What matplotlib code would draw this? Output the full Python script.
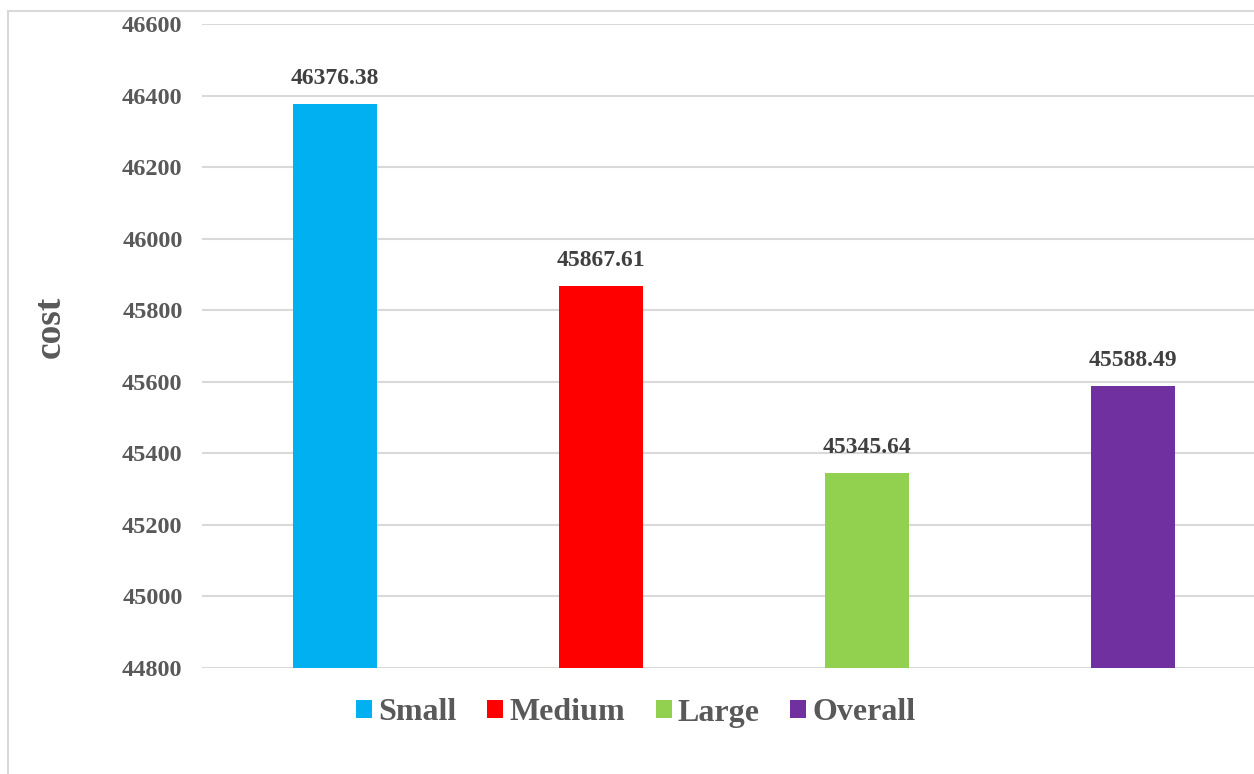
#!/usr/bin/env python3
"""Bar chart of cost per group, Excel style"""
import matplotlib
matplotlib.use("Agg")
import matplotlib.pyplot as plt
from matplotlib.patches import Rectangle

# data
categories = ["Small", "Medium", "Large", "Overall"]
costs = [46376.38, 45867.61, 45345.64, 45588.49]
bar_colors = ["#00B0F0", "#FF0000", "#92D050", "#7030A0"]
yticks = list(range(44800, 46601, 200))

plt.rcParams["font.family"] = ["Liberation Serif", "DejaVu Serif"]
plt.rcParams["font.weight"] = "bold"

fig = plt.figure(figsize=(12.54, 7.74), dpi=100)
ax = fig.add_axes([202 / 1254, 1 - 668 / 774, 1064 / 1254, 644 / 774])

# outer chart border (only left/top are visible in the frame)
fig.patches.append(
    Rectangle((8 / 1254, -0.1), 1.2, 1 - 11 / 774 + 0.1, transform=fig.transFigure,
              fill=False, edgecolor="#d9d9d9", lw=1.5, zorder=0)
)

x = range(len(categories))
bars = ax.bar(x, [c - yticks[0] for c in costs], bottom=yticks[0], width=0.316,
              color=bar_colors, label=categories, zorder=3)
ax.bar_label(bars, labels=[f"{c:.2f}" for c in costs], padding=11,
             fontsize=17, fontweight="bold", color="#404040")

ax.set_xlim(-0.5, 3.5)
ax.set_ylim(yticks[0], yticks[-1])
ax.set_yticks(yticks)
ax.set_xticks([])
ax.grid(axis="y", color="#d9d9d9", lw=1.5, zorder=0)
for s in ax.spines.values():
    s.set_visible(False)
ax.tick_params(axis="y", length=0, pad=14, labelsize=17.5, labelcolor="#595959")
for t in ax.get_yticklabels():
    t.set_fontweight("bold")

fig.text(50 / 1254, 1 - 327 / 774, "cost", rotation=90, ha="center", va="center",
         fontsize=27, fontweight="bold", color="#595959")

fig.legend(handles=bars, labels=categories, loc="center", ncol=4,
           bbox_to_anchor=(636 / 1254, 1 - 713 / 774), frameon=False,
           prop={"size": 23, "weight": "bold"}, labelcolor="#595959",
           handlelength=0.5, handleheight=0.5, handletextpad=0.2,
           columnspacing=0.95)

fig.savefig("out.png", dpi=100)
